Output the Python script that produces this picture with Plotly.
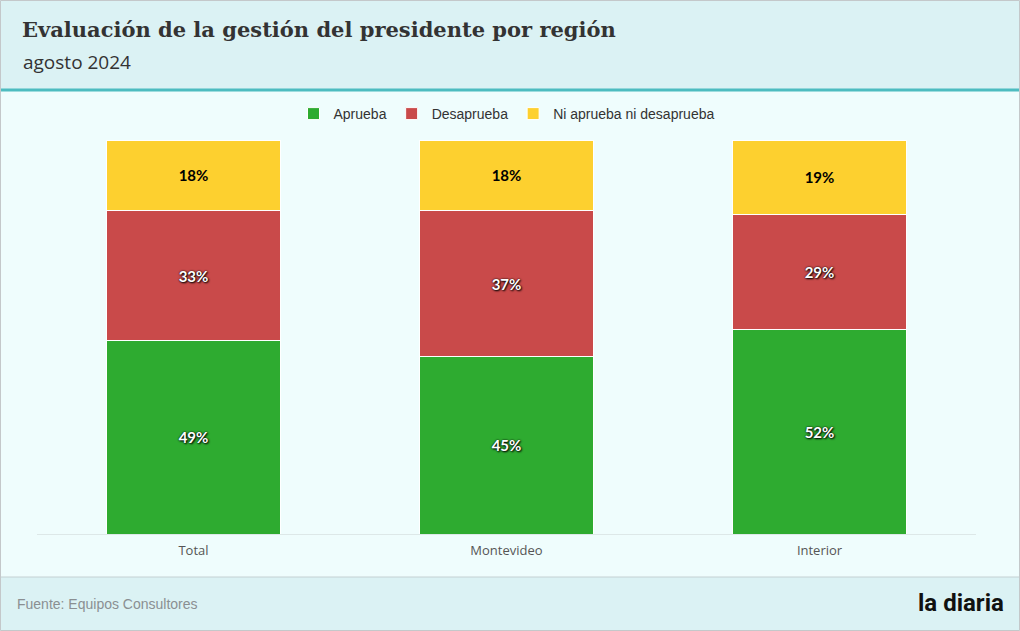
import plotly.graph_objects as go

categories = ["Total", "Montevideo", "Interior"]
aprueba = [49, 45, 52]
desaprueba = [33, 37, 29]
ni = [18, 18, 19]

W, H = 1020, 631
L, R, T, B = 37, 976, 140, 534

def px(x):
    return (x - L) / (R - L)

def py(y):
    return (B - y) / (B - T)

fig = go.Figure()
series = [
    ("Aprueba", aprueba, "#2eab30", "white", "0px 0px 2px #000, 1px 1px 2px #000"),
    ("Desaprueba", desaprueba, "#c94a4a", "white", "0px 0px 2px #000, 1px 1px 2px #000"),
    ("Ni aprueba ni desaprueba", ni, "#fdd02f", "black", "none"),
]
for name, vals, color, tcol, shadow in series:
    fig.add_trace(go.Bar(
        x=categories, y=vals, name=name,
        marker=dict(color=color, line=dict(color="white", width=1)),
        text=[f"{v}%" for v in vals], textposition="inside", insidetextanchor="middle",
        textfont=dict(family="Lato", size=15, color=tcol, weight="bold", shadow=shadow),
        hoverinfo="skip",
    ))

shapes = [
    dict(type="rect", xref="paper", yref="paper", x0=px(0), x1=px(W), y0=py(89), y1=py(0),
         fillcolor="#dbf2f4", line=dict(width=0), layer="below"),
    dict(type="line", xref="paper", yref="paper", x0=px(0), x1=px(W), y0=py(90), y1=py(90),
         line=dict(color="#4dbcc0", width=3)),
    dict(type="rect", xref="paper", yref="paper", x0=px(0), x1=px(W), y0=py(H), y1=py(577),
         fillcolor="#dbf2f4", line=dict(width=0), layer="below"),
    dict(type="line", xref="paper", yref="paper", x0=px(0), x1=px(W), y0=py(577), y1=py(577),
         line=dict(color="#c4d0d2", width=1)),
    dict(type="rect", xref="paper", yref="paper", x0=px(0.5), x1=px(W - 0.5), y0=py(H - 0.5), y1=py(0.5),
         fillcolor="rgba(0,0,0,0)", line=dict(color="#c4c8ca", width=1)),
]

annotations = [
    dict(text="<b>Evaluación de la gestión del presidente por región</b>", xref="paper", yref="paper",
         x=px(20), y=py(30), xanchor="left", yanchor="middle", showarrow=False,
         font=dict(family="DejaVu Serif", size=21, color="#333333")),
    dict(text="agosto 2024", xref="paper", yref="paper",
         x=px(21), y=py(62), xanchor="left", yanchor="middle", showarrow=False,
         font=dict(family="Open Sans", size=19, color="#333333")),
    dict(text="Fuente: Equipos Consultores", xref="paper", yref="paper",
         x=px(15), y=py(604), xanchor="left", yanchor="middle", showarrow=False,
         font=dict(family="Liberation Sans", size=14, color="#8a8f92")),
    dict(text="<b>la diaria</b>", xref="paper", yref="paper",
         x=px(1006), y=py(603), xanchor="right", yanchor="middle", showarrow=False,
         font=dict(family="Liberation Sans Narrow, Roboto", size=24, color="#111111")),
]

fig.update_layout(
    width=W, height=H,
    barmode="stack", bargap=0.445,
    margin=dict(l=L, r=W - R, t=T, b=H - B, pad=0),
    paper_bgcolor="#effdfd", plot_bgcolor="#effdfd",
    shapes=shapes, annotations=annotations,
    legend=dict(orientation="h", x=0.5, xanchor="center", y=py(114), yanchor="middle",
                font=dict(family="Liberation Sans", size=14, color="#333333"),
                bgcolor="rgba(0,0,0,0)", traceorder="normal", itemwidth=30),
    xaxis=dict(showgrid=False, showline=True, linecolor="#dde8e8", linewidth=1,
               ticks="outside", ticklen=4, tickcolor="rgba(0,0,0,0)",
               tickfont=dict(family="Open Sans", size=13, color="#555555")),
    yaxis=dict(range=[0, 100], visible=False),
    showlegend=True,
)

fig.write_html("out.html", config={"displayModeBar": False},
               post_script="document.body.style.margin='0';document.body.style.overflow='hidden';")
